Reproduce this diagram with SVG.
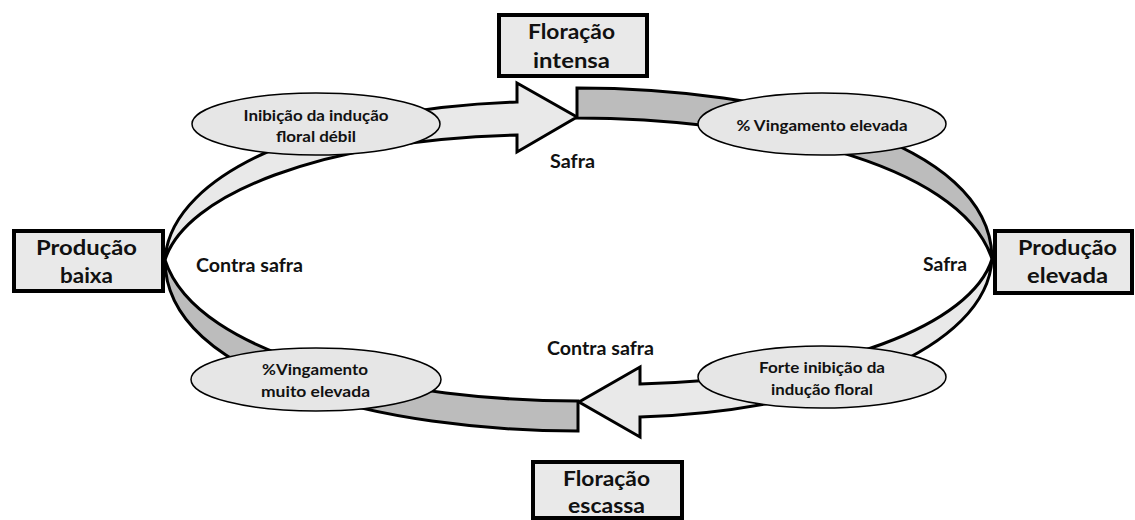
<svg xmlns="http://www.w3.org/2000/svg" width="1135" height="520" viewBox="0 0 1135 520">
  <style>
    .band { stroke: #000; stroke-width: 3; stroke-linejoin: miter; }
    .light { fill: #e9e9e9; }
    .dark { fill: #bcbcbc; }
    .box { fill: #e9e9e9; stroke: #000; stroke-width: 4; }
    .lbl { fill: #e6e6e6; stroke: #000; stroke-width: 1.5; }
    text { font-family: Lato, "Open Sans", "Liberation Sans", sans-serif; font-weight: bold; fill: #111; text-anchor: middle; }
    .tb { font-size: 21.5px; }
    .te { font-size: 15.5px; }
    .tf { font-size: 18px; }
  </style>

  <g id="connectors">
    <!-- upper-left light arrow (towards Floração intensa) -->
    <path class="band light" d="M165,260 C170,170 330,108 517,102 L517,83 L577,117 L517,152 L517,135 C320,140 185,195 165,260 Z"/>
    <!-- upper-right dark band -->
    <path class="band dark" d="M577,88 C770,88 992,140 992,259 C960,160 750,118 577,118 Z"/>
    <!-- lower-right light arrow (towards Floração escassa) -->
    <path class="band light" d="M992,259 C987,349 827,411 640,417 L640,437 L579,402 L640,367 L640,384 C837,379 972,324 992,259 Z"/>
    <!-- lower-left dark band -->
    <path class="band dark" d="M578,431 C385,431 165,379 165,260 C197,359 407,401 578,401 Z"/>
  </g>

  <g id="label-inibicao-debil">
    <ellipse class="lbl" cx="316" cy="124" rx="124" ry="31"/>
    <text class="te" x="316" y="121" textLength="145" lengthAdjust="spacingAndGlyphs">Inibição da indução</text>
    <text class="te" x="316" y="142" textLength="80" lengthAdjust="spacingAndGlyphs">floral débil</text>
  </g>

  <g id="label-vingamento-elevada">
    <ellipse class="lbl" cx="822" cy="124" rx="124" ry="31"/>
    <text class="te" x="822" y="131" textLength="171" lengthAdjust="spacingAndGlyphs">% Vingamento elevada</text>
  </g>

  <g id="label-vingamento-muito">
    <ellipse class="lbl" cx="316" cy="379.5" rx="125" ry="31.5"/>
    <text class="te" x="315" y="375" textLength="106" lengthAdjust="spacingAndGlyphs">%Vingamento</text>
    <text class="te" x="315.5" y="397" textLength="109" lengthAdjust="spacingAndGlyphs">muito elevada</text>
  </g>

  <g id="label-forte-inibicao">
    <ellipse class="lbl" cx="822" cy="377" rx="124" ry="31"/>
    <text class="te" x="822" y="373" textLength="126" lengthAdjust="spacingAndGlyphs">Forte inibição da</text>
    <text class="te" x="822" y="395" textLength="102" lengthAdjust="spacingAndGlyphs">indução floral</text>
  </g>

  <g id="box-floracao-intensa">
    <rect class="box" x="499" y="15" width="148" height="61"/>
    <text class="tb" x="571.5" y="38.5" textLength="87" lengthAdjust="spacingAndGlyphs">Floração</text>
    <text class="tb" x="571.5" y="68" textLength="77" lengthAdjust="spacingAndGlyphs">intensa</text>
  </g>

  <g id="box-producao-baixa">
    <rect class="box" x="14" y="231" width="149" height="60"/>
    <text class="tb" x="86.5" y="254.5" textLength="101" lengthAdjust="spacingAndGlyphs">Produção</text>
    <text class="tb" x="86.5" y="283" textLength="53" lengthAdjust="spacingAndGlyphs">baixa</text>
  </g>

  <g id="box-producao-elevada">
    <rect class="box" x="995" y="231" width="137" height="62"/>
    <text class="tb" x="1067.5" y="254.5" textLength="99" lengthAdjust="spacingAndGlyphs">Produção</text>
    <text class="tb" x="1067.5" y="283" textLength="81" lengthAdjust="spacingAndGlyphs">elevada</text>
  </g>

  <g id="box-floracao-escassa">
    <rect class="box" x="533" y="462" width="149" height="56"/>
    <text class="tb" x="606.5" y="485.5" textLength="87" lengthAdjust="spacingAndGlyphs">Floração</text>
    <text class="tb" x="606.5" y="513" textLength="77" lengthAdjust="spacingAndGlyphs">escassa</text>
  </g>

  <g id="free-labels">
    <text class="tf" x="572.5" y="168" textLength="45" lengthAdjust="spacingAndGlyphs">Safra</text>
    <text class="tf" x="249.5" y="272" textLength="107" lengthAdjust="spacingAndGlyphs">Contra safra</text>
    <text class="tf" x="945" y="271" textLength="44" lengthAdjust="spacingAndGlyphs">Safra</text>
    <text class="tf" x="600.5" y="355" textLength="107" lengthAdjust="spacingAndGlyphs">Contra safra</text>
  </g>
</svg>
